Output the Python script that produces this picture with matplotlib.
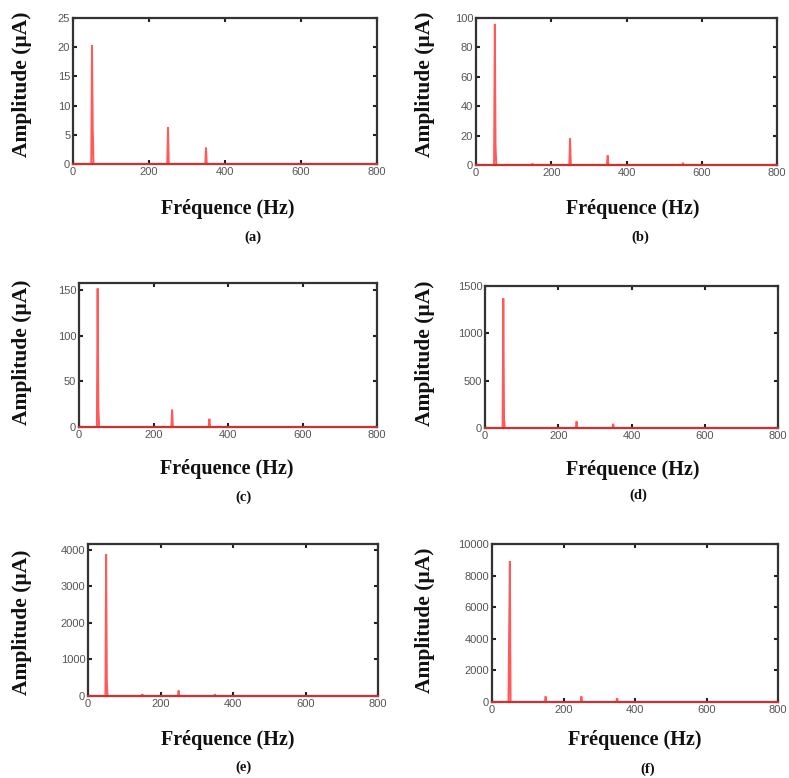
import matplotlib
matplotlib.use("Agg")
import matplotlib.pyplot as plt

W, H = 789, 778

# Spectra (frequency in Hz, amplitude in µA)
freq_a = [0, 48, 50, 52, 54, 248, 250, 252, 348, 350, 352, 800]
amp_a = [0, 0, 20.3, 6.0, 0, 0, 6.3, 0, 0, 2.8, 0, 0]

freq_b = [0, 48, 50, 52, 54, 148, 150, 152, 248, 250, 252, 348, 350, 352, 548, 550, 552, 800]
amp_b = [0, 0, 96, 12, 0, 0, 1.0, 0, 0, 18, 0, 0, 6.5, 0, 0, 1.5, 0, 0]

freq_c = [0, 48, 50, 52, 54, 248, 250, 252, 348, 350, 352, 800]
amp_c = [0, 0, 152, 22, 0, 0, 19, 0, 0, 9, 0, 0]

freq_d = [0, 48, 50, 52, 54, 248, 250, 252, 348, 350, 352, 800]
amp_d = [0, 0, 1370, 100, 0, 0, 70, 0, 0, 45, 0, 0]

freq_e = [0, 48, 50, 52, 54, 148, 150, 152, 248, 250, 252, 348, 350, 352, 800]
amp_e = [0, 0, 3880, 400, 0, 0, 50, 0, 0, 150, 0, 0, 50, 0, 0]

freq_f = [0, 46, 48, 50, 52, 148, 150, 152, 248, 250, 252, 348, 350, 352, 800]
amp_f = [0, 0, 4500, 8900, 0, 0, 350, 0, 0, 350, 0, 0, 250, 0, 0]

yticks_a = [0, 5, 10, 15, 20, 25]
yticks_b = [0, 20, 40, 60, 80, 100]
yticks_c = [0, 50, 100, 150]
yticks_d = [0, 500, 1000, 1500]
yticks_e = [0, 1000, 2000, 3000, 4000]
yticks_f = [0, 2000, 4000, 6000, 8000, 10000]
xticks = [0, 200, 400, 600, 800]

panel_labels = ["(a)", "(b)", "(c)", "(d)", "(e)", "(f)"]
xlabel_text = "Fréquence (Hz)"
ylabel_text = "Amplitude (µA)"

panels = [
    (freq_a, amp_a, yticks_a, 25, (73, 377, 18, 164), (228, 209), (253, 237), (22, 84)),
    (freq_b, amp_b, yticks_b, 100, (476, 777, 18, 165), (633, 209), (640, 237), (425, 84)),
    (freq_c, amp_c, yticks_c, 158, (79, 377, 283, 427), (227, 469), (243, 497), (22, 352)),
    (freq_d, amp_d, yticks_d, 1500, (485, 778, 286, 428), (633, 470), (638, 495), (425, 353)),
    (freq_e, amp_e, yticks_e, 4160, (88, 378, 544, 696), (228, 740), (243, 767), (22, 622)),
    (freq_f, amp_f, yticks_f, 10000, (492, 778, 544, 702), (635, 740), (648, 769), (425, 620)),
]

fig = plt.figure(figsize=(W / 100, H / 100), dpi=100)

serif = ["Liberation Serif", "DejaVu Serif"]

for i, (fx, fy, yt, ytop, box, xlp, plp, ylp) in enumerate(panels):
    l, r, t, b = box
    ax = fig.add_axes([l / W, 1 - b / H, (r - l) / W, (b - t) / H])
    ax.plot(fx, fy, color="#ff3030", lw=1.4, alpha=0.8, solid_joinstyle="miter",
            zorder=3, clip_on=False)
    ax.set_xlim(0, 800)
    ax.set_ylim(0, ytop)
    ax.set_xticks(xticks)
    ax.set_yticks(yt)
    ax.tick_params(direction="in", length=3, width=1.5, top=True, right=True,
                   labelsize=8, labelcolor="#555555", color="#222222", pad=2)
    for lab in ax.get_xticklabels() + ax.get_yticklabels():
        lab.set_family("Liberation Sans")
    for s in ax.spines.values():
        s.set_linewidth(1.6)
        s.set_color("#333333")
        s.set_zorder(2)
    fig.text(xlp[0] / W, 1 - xlp[1] / H, xlabel_text, ha="center", va="center",
             family=serif, fontweight="bold", fontsize=14.5, color="#111111")
    fig.text(plp[0] / W, 1 - plp[1] / H, panel_labels[i], ha="center", va="center",
             family=serif, fontweight="bold", fontsize=10.5, color="#111111")
    fig.text(ylp[0] / W, 1 - ylp[1] / H, ylabel_text, ha="center", va="center",
             rotation=90, family=serif, fontweight="bold", fontsize=15.5, color="#111111")

fig.savefig("out.png", dpi=100)
